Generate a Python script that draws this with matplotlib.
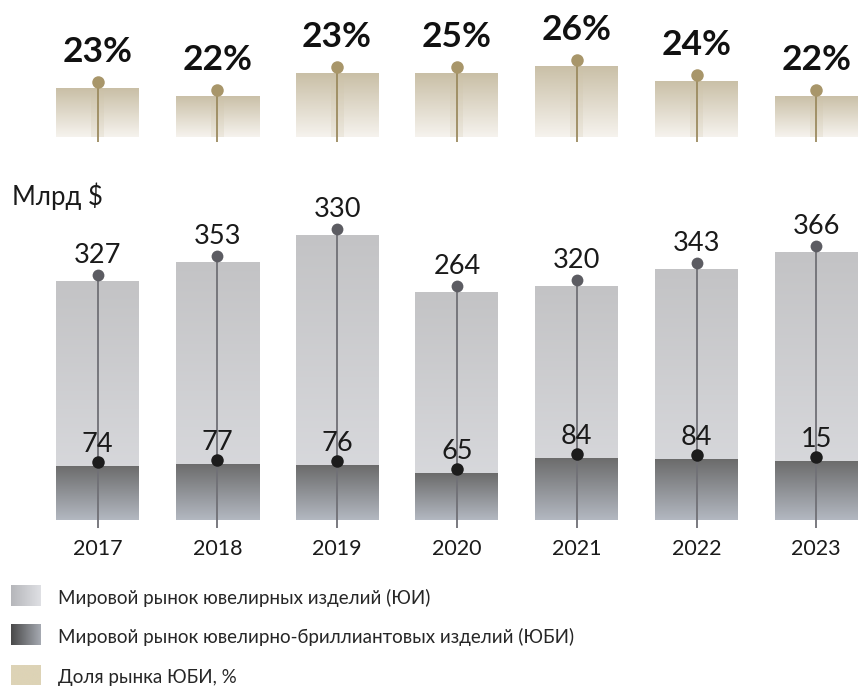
import numpy as np
import matplotlib
matplotlib.use("Agg")
import matplotlib.pyplot as plt
from matplotlib.colors import LinearSegmentedColormap
from matplotlib.transforms import offset_copy

# ---------------- data ----------------
years = ["2017", "2018", "2019", "2020", "2021", "2022", "2023"]
share_labels = [23, 22, 23, 25, 26, 24, 22]          # printed share, %
share_bars = [23, 22, 25, 25, 26, 24, 22]            # bar heights as drawn
total_labels = [327, 353, 330, 264, 320, 343, 366]   # printed ЮИ values
total_bars = [327, 353, 390, 312, 320, 343, 366]     # ЮИ bar heights as drawn
jbi_labels = [74, 77, 76, 65, 84, 84, 15]            # printed ЮБИ values
jbi_bars = [74, 77, 75, 64, 85, 83, 81]              # ЮБИ bar heights as drawn
legend_labels = [
    "Мировой рынок ювелирных изделий (ЮИ)",
    "Мировой рынок ювелирно-бриллиантовых изделий (ЮБИ)",
    "Доля рынка ЮБИ, %",
]
unit_label = "Млрд $"

plt.rcParams["font.family"] = ["Lato", "DejaVu Sans"]

W, H = 861, 688
fig = plt.figure(figsize=(W / 100, H / 100), dpi=100)
fig.patch.set_facecolor("white")

step = 119.8
x0px = 97.5
xlim = (-x0px / step, (W - x0px) / step)
x = np.arange(len(years))
bw = 83 / step


def fy(py):
    return 1 - py / H


def grad_bars(ax, xs, heights, bottom, c_bot, c_top, z=1):
    bars = ax.bar(xs, heights, bw, bottom=bottom, color="none",
                  edgecolor="none", zorder=z)
    cmap = LinearSegmentedColormap.from_list("g", [c_bot, c_top])
    grad = np.linspace(0, 1, 256).reshape(-1, 1)
    for b in bars:
        bx, by = b.get_x(), b.get_y()
        w, h = b.get_width(), b.get_height()
        im = ax.imshow(grad, extent=[bx, bx + w, by, by + h], origin="lower",
                       aspect="auto", cmap=cmap, zorder=z,
                       interpolation="bilinear")
        im.set_clip_path(b)
    return bars


# ---------------- top panel: share ----------------
top_ppu = 7.5      # pixels per percent
top_base = 16.5
ax_t = fig.add_axes([0, fy(137), 1, 137 / H])
ax_t.set_xlim(xlim)
ax_t.set_ylim(top_base, top_base + 137 / top_ppu)
ax_t.axis("off")

sb = np.array(share_bars, dtype=float)
grad_bars(ax_t, x, sb - top_base, top_base, "#f6f3ee", "#c9bfa6")
# soft stripe behind pins
ax_t.bar(x, sb - top_base, 13 / step, bottom=top_base, color="#cfc4a8",
         alpha=0.22, edgecolor="none", zorder=2)
ax_t.vlines(x, top_base - 5 / top_ppu, sb + 6 / top_ppu, color="#9c8b60",
            lw=1.3, zorder=3, clip_on=False)
tr_c = offset_copy(ax_t.transData, fig=fig, y=6, units="dots")
ax_t.plot(x, sb, "o", ms=9, color="#a8966a", mec="none", transform=tr_c,
          zorder=4, clip_on=False)
tr_l = offset_copy(ax_t.transData, fig=fig, y=26, units="dots")
for xi, v, lab in zip(x, sb, share_labels):
    ax_t.text(xi, v, f"{lab}%", transform=tr_l, ha="center", va="baseline",
              fontsize=25.5, fontweight="bold", color="#111111", clip_on=False)

# ---------------- main panel ----------------
ppu = 0.731
ax = fig.add_axes([0, fy(520), 1, (520 - 150) / H])
ax.set_xlim(xlim)
ax.set_ylim(0, 370 / ppu)
for s in ax.spines.values():
    s.set_visible(False)
ax.set_yticks([])
ax.set_xticks(x)
ax.set_xticklabels(years, fontsize=15.5, color="#1a1a1a")
ax.tick_params(axis="x", length=0, pad=14)

tb = np.array(total_bars, dtype=float)
jb = np.array(jbi_bars, dtype=float)
grad_bars(ax, x, tb, 0, "#dcdde1", "#c3c3c5", z=1)
grad_bars(ax, x, jb, 0, "#b3b8c1", "#6b6b6b", z=2)

ax.vlines(x, -8 / ppu, tb + 6 / ppu, color="#707076", lw=1.3, zorder=3,
          clip_on=False)
tr_g = offset_copy(ax.transData, fig=fig, y=6, units="dots")
ax.plot(x, tb, "o", ms=8.5, color="#5c5c62", mec="none", transform=tr_g,
        zorder=4)
tr_d = offset_copy(ax.transData, fig=fig, y=4, units="dots")
ax.plot(x, jb, "o", ms=9, color="#1c1c1c", mec="none", transform=tr_d,
        zorder=4)

tr_gl = offset_copy(ax.transData, fig=fig, y=18, units="dots")
for xi, v, lab in zip(x, tb, total_labels):
    ax.text(xi, v, str(lab), transform=tr_gl, ha="center", va="baseline",
            fontsize=19.5, color="#1a1a1a", zorder=5)
tr_dl = offset_copy(ax.transData, fig=fig, y=14, units="dots")
for xi, v, lab in zip(x, jb, jbi_labels):
    ax.text(xi, v, str(lab), transform=tr_dl, ha="center", va="baseline",
            fontsize=19.5, color="#1a1a1a", zorder=5)

fig.text(12 / W, fy(205), unit_label, ha="left", va="baseline", fontsize=18.5,
         color="#1a1a1a")

# ---------------- legend ----------------
axl = fig.add_axes([0, 0, 1, 1], zorder=-1)
axl.set_xlim(0, W)
axl.set_ylim(H, 0)
axl.axis("off")
hgrad = np.linspace(0, 1, 256).reshape(1, -1)
sw_rows = [(585, 606), (624, 645), (665, 685)]
sw_maps = [
    LinearSegmentedColormap.from_list("s1", ["#b5b6ba", "#dfe0e4"]),
    LinearSegmentedColormap.from_list("s2", ["#494949", "#a6aab2"]),
    LinearSegmentedColormap.from_list("s3", ["#ddd3b6", "#ddd3b6"]),
]
for (y0, y1), cm, lab in zip(sw_rows, sw_maps, legend_labels):
    axl.imshow(hgrad, extent=[11, 41, y1, y0], aspect="auto", cmap=cm,
               interpolation="bilinear")
    axl.text(58, y1 - 2, lab, ha="left", va="baseline", fontsize=13.5,
             color="#262626")
axl.set_xlim(0, W)
axl.set_ylim(H, 0)

for a in (ax_t, ax):
    a.set_xlim(xlim)
ax_t.set_ylim(top_base, top_base + 137 / top_ppu)
ax.set_ylim(0, 370 / ppu)

fig.savefig("out.png", dpi=100, facecolor="white")
